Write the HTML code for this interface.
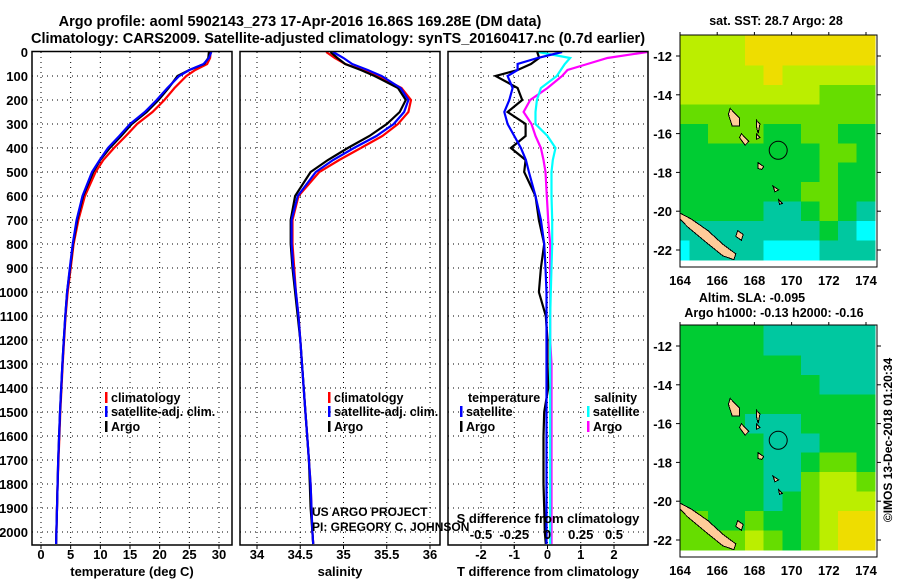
<!DOCTYPE html>
<html><head><meta charset="utf-8"><style>
html,body{margin:0;padding:0;background:#fff;}
svg text{font-family:"Liberation Sans",sans-serif;font-weight:bold;}
</style></head><body>
<svg id="c" width="900" height="580" xmlns="http://www.w3.org/2000/svg">
<text x="300" y="26" font-size="14.5" text-anchor="middle">Argo profile: aoml 5902143_273 17-Apr-2016 16.86S 169.28E (DM data)</text>
<text x="338" y="43" font-size="14.5" text-anchor="middle">Climatology: CARS2009. Satellite-adjusted climatology: synTS_20160417.nc (0.7d earlier)</text>
<g id="g"></g>
</svg>
<script>
const depths=[0,25,50,75,100,150,200,250,300,350,400,450,500,600,700,800,900,1000,1100,1200,1300,1400,1500,1600,1700,1800,1900,2000,2050];
const argoT=[28.3,28.2,27.5,25,23,21.5,19.8,17.8,15.3,13.5,11.6,10,8.8,7.1,6.1,5.4,4.9,4.4,4.1,3.85,3.6,3.4,3.2,3.05,2.9,2.8,2.7,2.6,2.55];
const climT=[28.6,28.5,28,26,24.5,22.5,20.8,18.8,16.2,14.3,12.3,10.5,9.2,7.4,6.3,5.5,5.0,4.5,4.15,3.9,3.65,3.45,3.25,3.1,2.95,2.8,2.7,2.6,2.55];
const satT=[28.7,28.3,27.4,25,23.3,21.3,19.5,17.5,15.0,13.2,11.3,9.9,8.6,7.0,6.0,5.35,4.85,4.4,4.1,3.85,3.6,3.4,3.2,3.05,2.9,2.8,2.7,2.6,2.55];
const argoS=[34.85,34.93,35.02,35.2,35.36,35.63,35.72,35.65,35.5,35.3,35.05,34.82,34.62,34.44,34.39,34.39,34.41,34.44,34.47,34.5,34.52,34.54,34.56,34.58,34.6,34.61,34.62,34.64,34.65];
const climS=[34.8,34.9,35.02,35.22,35.4,35.67,35.78,35.75,35.63,35.45,35.2,34.95,34.72,34.48,34.41,34.41,34.43,34.45,34.48,34.5,34.52,34.54,34.56,34.58,34.6,34.62,34.63,34.64,34.65];
const satS=[34.88,35.0,35.1,35.28,35.44,35.66,35.75,35.7,35.58,35.38,35.12,34.88,34.68,34.47,34.4,34.4,34.42,34.45,34.48,34.5,34.52,34.54,34.56,34.58,34.6,34.62,34.63,34.64,34.65];
const dTargo=[-0.31,-0.25,-0.5,-0.9,-1.56,-0.9,-0.76,-1.2,-0.66,-0.66,-1.1,-0.66,-0.7,-0.36,-0.26,-0.1,-0.2,-0.26,-0.05,0,0,0.02,-0.1,-0.12,-0.12,-0.12,-0.1,-0.08,-0.05];
const dTsat=[0.44,-0.3,-0.9,-0.9,-1.2,-1.05,-1.15,-1.3,-1.2,-1.0,-0.8,-0.65,-0.56,-0.36,-0.2,-0.1,-0.06,-0.03,-0.03,-0.03,-0.03,-0.03,-0.03,-0.03,-0.03,-0.03,-0.03,-0.03,-0.03];
const dSargo=[0.75,0.45,0.3,0.15,0.11,0,-0.13,-0.18,-0.12,-0.09,-0.05,-0.03,-0.015,-0.005,0.005,0.02,0.02,0.02,0.02,0.02,0.03,0.03,0.03,0.03,0.03,0.03,0.03,0.03,0.03];
const dSsat=[-0.07,0.17,0.13,0.1,0.07,-0.05,-0.08,-0.09,-0.09,0.0,0.06,0.04,0.03,0.03,0.035,0.035,0.03,0.025,0.02,0.02,0.02,0.02,0.02,0.02,0.02,0.02,0.02,0.02,0.02];
const depthTicks=[0,100,200,300,400,500,600,700,800,900,1000,1100,1200,1300,1400,1500,1600,1700,1800,1900,2000];
const tTicks=[0,5,10,15,20,25,30];
const sTicks=[34,34.5,35,35.5,36];
const dTTicks=[-2,-1,0,1,2];
const dSTicks=[-0.5,-0.25,0,0.25,0.5];
const sstGrid=[
[4,4,4,4,5,5,5,5,5,5,5],[4,4,4,4,5,5,5,5,5,5,5],[4,4,4,4,4,5,4,4,4,4,4],[4,4,4,4,4,4,4,4,3,3,3],
[3,3,3,3,3,3,3,3,3,3,3],[2,2,3,3,3,2,2,3,3,2,2],[2,2,2,2,2,2,2,2,3,3,2],[2,2,2,2,2,2,2,2,3,2,2],
[2,2,2,2,2,2,2,3,3,2,2],[2,2,2,2,2,1,1,2,3,2,1],[1,1,1,1,1,1,1,1,2,1,0],[0,1,1,1,1,0,0,0,1,1,1]];
const slaGrid=[
[2,2,2,2,2,1,1,1,1,1,1],[2,2,2,2,2,1,1,1,1,1,1],[2,2,2,2,2,2,2,1,1,1,1],[2,2,2,2,2,2,2,2,1,1,1],
[2,2,2,2,2,2,2,2,2,2,2],[2,2,2,2,1,1,1,2,2,2,2],[2,2,2,2,2,1,1,1,2,2,2],[2,2,2,2,2,1,1,2,3,3,2],
[2,2,2,2,2,1,1,3,4,4,3],[2,2,2,2,2,1,2,3,4,4,4],[3,3,2,2,3,2,2,3,4,5,5],[3,3,3,3,4,3,2,3,4,5,5]];
const lonTicks=[164,166,168,170,172,174];
const latTicks=[-12,-14,-16,-18,-20,-22];

const NS='http://www.w3.org/2000/svg';
const G=document.getElementById('g');
function el(tag,attrs,parent){const e=document.createElementNS(NS,tag);for(const k in attrs)e.setAttribute(k,attrs[k]);(parent||G).appendChild(e);return e;}
function txt(x,y,s,size,anchor,parent){const t=el('text',{x:x,y:y,'font-size':size,'text-anchor':anchor||'middle'},parent);t.textContent=s;return t;}
const Y=d=>52+d*0.24;
const PB=545;
function mkX(px0,px1,v0,v1){return v=>px0+(v-v0)/(v1-v0)*(px1-px0);}
const xT=mkX(41,219,0,30), xS=mkX(257,430,34,36), xDT=mkX(481,614,-2,2), xDS=mkX(481,614,-0.5,0.5);
const panels=[{x0:32,name:'temperature-panel'},{x0:240,name:'salinity-panel'},{x0:448,name:'difference-panel'}];
function grid(x0,vals,xf){
  const g=el('g',{});
  
  
  depthTicks.forEach(d=>{if(d>0)el('line',{x1:x0,x2:x0+200,y1:Y(d),y2:Y(d),stroke:'#000','stroke-width':1,'stroke-dasharray':'1,4'},g);});
  vals.forEach(v=>el('line',{x1:xf(v),x2:xf(v),y1:Y(0),y2:PB,stroke:'#000','stroke-width':1,'stroke-dasharray':'1,4'},g));
}
grid(32,tTicks,xT);grid(240,sTicks,xS);grid(448,dTTicks,xDT);
function line(xs,xf,col,name,w){
  const p=el('polyline',{points:depths.map((d,i)=>xf(xs[i]).toFixed(1)+','+Y(d).toFixed(1)).join(' '),fill:'none',stroke:col,'stroke-width':w||2.2});
  
  
}
line(climT,xT,'#ff0000','temperature-climatology-line');
line(argoT,xT,'#000000','temperature-argo-line');
line(satT,xT,'#0000ff','temperature-satellite-line');
line(climS,xS,'#ff0000','salinity-climatology-line');
line(argoS,xS,'#000000','salinity-argo-line');
line(satS,xS,'#0000ff','salinity-satellite-line');
line(dSargo,xDS,'#ff00ff','s-diff-argo-line');
line(dSsat,xDS,'#00ffff','s-diff-satellite-line');
line(dTargo,xDT,'#000000','t-diff-argo-line');
line(dTsat,xDT,'#0000ff','t-diff-satellite-line');
panels.forEach(p=>{
  const r=el('rect',{x:p.x0,y:Y(0)-0.5,width:200,height:PB-Y(0)+0.5,fill:'none',stroke:'#000','stroke-width':1.5});
  
  
});
depthTicks.forEach(d=>{const t=txt(28,Y(d)+5,String(d),13,'end');});
function xticks(vals,xf,y,labels){vals.forEach((v,i)=>{el('line',{x1:xf(v),x2:xf(v),y1:PB,y2:PB+4,stroke:'#000'});const t=txt(xf(v),y,labels?labels[i]:String(v),13);});}
xticks(tTicks,xT,559);xticks(sTicks,xS,559);xticks(dTTicks,xDT,559);
xticks(dSTicks,xDS,539,['-0.5','-0.25','0','0.25','0.5']);
[['temperature (deg C)',132,'temperature-axis-title'],['salinity',340,'salinity-axis-title'],['T difference from climatology',548,'t-diff-axis-title']].forEach(a=>{const t=txt(a[1],576,a[0],13);});
{const t=txt(548,523,'S difference from climatology',13);}
{const t=txt(312,516,'US ARGO PROJECT',12,'start');t.setAttribute('font-weight','normal');
 const t2=txt(312,531,'PI: GREGORY C. JOHNSON',12,'start');t2.setAttribute('font-weight','normal');}
function legend(x,y,col,label,name){el('rect',{x:x,y:y-10,width:2.5,height:11,fill:col});const t=txt(x+6,y,label,12.5,'start');}
legend(105,402,'#ff0000','climatology','legend-climatology');
legend(105,416,'#0000ff','satellite-adj. clim.','legend-satellite');
legend(105,431,'#000000','Argo','legend-argo');
legend(328,402,'#ff0000','climatology','legend-climatology-2');
legend(328,416,'#0000ff','satellite-adj. clim.','legend-satellite-2');
legend(328,431,'#000000','Argo','legend-argo-2');
{const t=txt(468,402,'temperature',12.5,'start');}
legend(460,416,'#0000ff','satellite','legend-t-satellite');
legend(460,431,'#000000','Argo','legend-t-argo');
{const t=txt(594,402,'salinity',12.5,'start');}
legend(587,416,'#00ffff','satellite','legend-s-satellite');
legend(587,431,'#ff00ff','Argo','legend-s-argo');

const colors=['#00ffff','#00c8a0','#00cc33','#66dd00','#bbee00','#eedd00','#ff0000'];
const lonX=lon=>680+(lon-164)*18.6;
const islands=[
[[164.0,-20.1],[164.6,-20.4],[165.5,-21.0],[166.3,-21.7],[167.0,-22.2],[166.9,-22.5],[166.3,-22.3],[165.4,-21.6],[164.4,-20.8],[164.0,-20.4]],
[[166.7,-14.7],[167.2,-15.2],[167.2,-15.6],[166.8,-15.6],[166.6,-15.0]],
[[167.3,-16.0],[167.7,-16.4],[167.5,-16.6],[167.2,-16.2]],
[[168.2,-17.5],[168.5,-17.7],[168.4,-17.85],[168.2,-17.8]],
[[169.0,-18.7],[169.3,-18.9],[169.1,-19.0]],
[[169.3,-19.4],[169.5,-19.6],[169.35,-19.65]],
[[167.1,-21.0],[167.4,-21.2],[167.3,-21.5],[167.0,-21.3]],
[[168.1,-16.0],[168.3,-16.2],[168.1,-16.3]],
[[168.1,-15.3],[168.3,-15.5],[168.2,-16.0],[168.1,-15.6]]];
function map(top,gridArr,name,titles){
  const g=el('g',{});
  
  
  const latY=lat=>top+21+(-12-lat)*19.4;
  const cp='clip-'+name;const cl=el('clipPath',{id:cp},g);el('rect',{x:680,y:top,width:197,height:232},cl);
  const cg=el('g',{'clip-path':'url(#'+cp+')','shape-rendering':'crispEdges'},g);
  gridArr.forEach((row,r)=>row.forEach((v,c)=>{
    const lat=-11-r, lon=164+c;
    const cell=el('rect',{x:lonX(lon-0.5),y:latY(lat+0.5),width:19,height:20,fill:colors[v]},cg);
    
    
  }));
  islands.forEach(is=>el('polygon',{points:is.map(p=>lonX(p[0]).toFixed(1)+','+latY(p[1]).toFixed(1)).join(' '),fill:'#ffcc99',stroke:'#000','stroke-width':1},cg));
  const fl=el('circle',{cx:lonX(169.28),cy:latY(-16.86),r:9,fill:'none',stroke:'#000','stroke-width':1},g);
  
  
  el('rect',{x:680,y:top,width:197,height:232,fill:'none',stroke:'#000'},g);
  latTicks.forEach(l=>{el('line',{x1:676,x2:680,y1:latY(l),y2:latY(l),stroke:'#000'},g);el('line',{x1:877,x2:881,y1:latY(l),y2:latY(l),stroke:'#000'},g);const t=txt(672,latY(l)+5,String(l),13,'end',g);});
  lonTicks.forEach(l=>{el('line',{x1:lonX(l),x2:lonX(l),y1:top-3,y2:top,stroke:'#000'},g);const t=txt(lonX(l),top+250,String(l),13,'middle',g);});
  titles.forEach((s,i)=>{const t=txt(s[1],s[2],s[0],12.5,'middle',g);});
}
map(35,sstGrid,'sst-map',[['sat. SST: 28.7 Argo: 28',776,25]]);
map(325,slaGrid,'sla-map',[['Altim. SLA: -0.095',752,302],['Argo h1000: -0.13 h2000: -0.16',774,317]]);
{const t=txt(0,0,'©IMOS 13-Dec-2018 01:20:34',12,'middle');t.setAttribute('font-weight','normal');t.setAttribute('transform','translate(892,440) rotate(-90)');}
</script>
</body></html>
